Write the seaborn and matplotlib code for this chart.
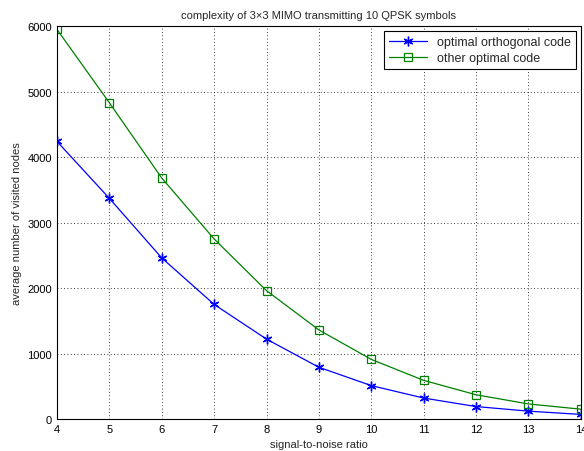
import numpy as np
import pandas as pd
import matplotlib
matplotlib.use("Agg")
import matplotlib.pyplot as plt
import seaborn as sns

# Data
snr = [4, 5, 6, 7, 8, 9, 10, 11, 12, 13, 14]
orthogonal = [4240, 3370, 2460, 1750, 1220, 790, 510, 320, 190, 120, 70]
other = [5950, 4830, 3680, 2750, 1960, 1360, 910, 590, 370, 230, 150]

sns.set_style("white")
plt.rcParams["font.family"] = ["Liberation Sans", "DejaVu Sans"]
plt.rcParams["font.size"] = 8

fig = plt.figure(figsize=(5.84, 4.52), dpi=100)
ax = fig.add_axes([0.0976, 0.0708, 0.897, 0.869])

# thin asterisk like matlab's '*'
sns.lineplot(x=snr, y=orthogonal, color="#0000ff", marker=(6, 2, 0), markersize=7,
             markeredgecolor="#0000ff", markeredgewidth=1.0, linewidth=0.9,
             label="optimal orthogonal code", ax=ax)
sns.lineplot(x=snr, y=other, color="#008000", marker="s", markersize=6,
             markerfacecolor="none", markeredgecolor="#008000",
             markeredgewidth=0.9, linewidth=0.9,
             label="other optimal code", ax=ax)

ax.set_xlim(4, 14)
ax.set_ylim(0, 6000)
ax.set_xticks(range(4, 15))
ax.set_yticks(range(0, 6001, 1000))
ax.grid(True, color="black", linestyle=(0, (1, 3)), linewidth=0.6)
for s in ax.spines.values():
    s.set_color("black")
    s.set_linewidth(0.8)
ax.tick_params(direction="in", length=4, labelsize=8, colors="black")
ax.set_xlabel("signal-to-noise ratio", fontsize=8)
ax.set_ylabel("average number of visited nodes", fontsize=8)
ax.set_title("complexity of 3\u00d73 MIMO transmitting 10 QPSK symbols", fontsize=8)

leg = ax.legend(loc="upper right", fontsize=9, fancybox=False, framealpha=1,
                edgecolor="black", borderaxespad=0.4, handlelength=3.0,
                labelspacing=0.3)
leg.get_frame().set_linewidth(0.8)

fig.savefig("out.png", dpi=100)
